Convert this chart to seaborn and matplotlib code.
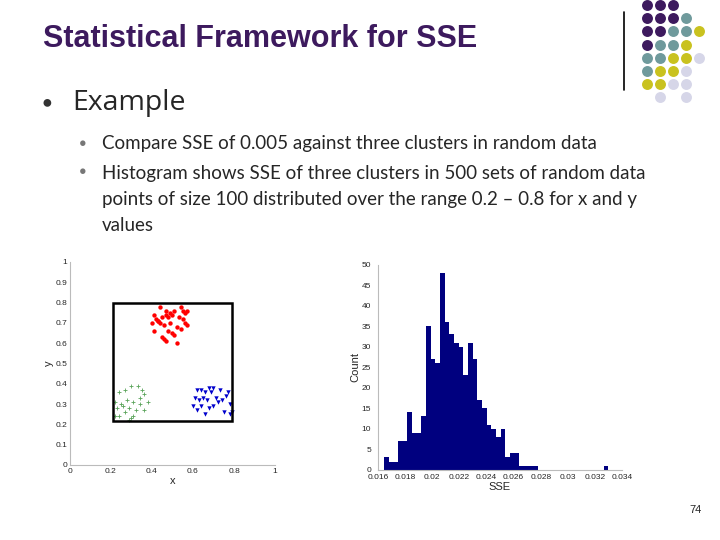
import numpy as np
import pandas as pd
import matplotlib
matplotlib.use("Agg")
import matplotlib.pyplot as plt
import seaborn as sns

# histogram of SSE (counts per bin)
sse_start = 0.01643
sse_width = 0.000345
sse_counts = [3, 2, 2, 7, 7, 14, 9, 9, 13, 35, 27, 26, 48, 36, 33, 31, 30, 23, 31, 27,
              17, 15, 11, 10, 8, 10, 3, 4, 4, 1, 1, 1, 1, 0, 0, 0, 0, 0, 0, 0,
              0, 0, 0, 0, 0, 0, 0, 1]

# random data with three clusters
red_x = [0.44, 0.47, 0.49, 0.51, 0.54, 0.55, 0.56, 0.57, 0.42, 0.43, 0.45, 0.47, 0.48, 0.50,
         0.53, 0.40, 0.41, 0.44, 0.46, 0.49, 0.52, 0.55, 0.57, 0.41, 0.48, 0.50, 0.54, 0.45,
         0.47, 0.51, 0.46, 0.52, 0.56, 0.43]
red_y = [0.78, 0.76, 0.75, 0.76, 0.78, 0.76, 0.75, 0.76, 0.72, 0.71, 0.73, 0.74, 0.73, 0.74,
         0.73, 0.70, 0.74, 0.70, 0.69, 0.70, 0.68, 0.72, 0.69, 0.66, 0.66, 0.65, 0.67, 0.63,
         0.61, 0.64, 0.62, 0.60, 0.70, 0.71]
green_x = [0.24, 0.27, 0.30, 0.33, 0.35, 0.36, 0.22, 0.25, 0.28, 0.31, 0.34, 0.38, 0.23, 0.26,
           0.29, 0.32, 0.36, 0.22, 0.24, 0.27, 0.30, 0.31, 0.29, 0.34]
green_y = [0.36, 0.37, 0.39, 0.39, 0.37, 0.35, 0.31, 0.30, 0.32, 0.31, 0.33, 0.31, 0.28, 0.29,
           0.28, 0.27, 0.27, 0.24, 0.24, 0.26, 0.23, 0.24, 0.22, 0.30]
blue_x = [0.62, 0.64, 0.66, 0.68, 0.70, 0.69, 0.73, 0.77, 0.61, 0.63, 0.65, 0.67, 0.71, 0.74,
          0.76, 0.78, 0.60, 0.64, 0.68, 0.70, 0.75, 0.79, 0.62, 0.66, 0.78, 0.72]
blue_y = [0.37, 0.37, 0.36, 0.38, 0.38, 0.36, 0.37, 0.36, 0.33, 0.32, 0.33, 0.32, 0.33, 0.32,
          0.34, 0.30, 0.29, 0.29, 0.28, 0.29, 0.26, 0.26, 0.27, 0.25, 0.25, 0.31]

# decorative dot grid, one string per row
dot_rows = ["PPP  ", "PPPT ", "PPTTY", "PTTY ", "TTYYL", "TYYL ", "YYLL ", " L L "]
dot_colors = {"P": "#3d1a5e", "T": "#6f9a9c", "Y": "#c9c21f", "L": "#d6d6e8"}

sns.set_style("white")
plt.rcParams["font.family"] = ["Liberation Sans", "DejaVu Sans"]

fig = plt.figure(figsize=(7.2, 5.4), dpi=100)

fig.text(0.06, 0.928, "Statistical Framework for SSE", fontsize=22, fontweight="bold",
         color="#3d1a5e", va="center")
fig.add_artist(plt.Line2D([0.867, 0.867], [0.833, 0.978], color="black", lw=1.2))

deco = fig.add_axes([0, 0, 1, 1], zorder=-1)
deco.set_xlim(0, 720)
deco.set_ylim(540, 0)
deco.axis("off")
for r, row in enumerate(dot_rows):
    for c, ch in enumerate(row):
        if ch != " ":
            deco.scatter(647 + c * 13, 5 + r * 13.2, s=62, color=dot_colors[ch], lw=0)

fig.text(0.058, 0.81, "\u25cf", fontsize=13, color="#333333", va="center")
fig.text(0.1, 0.81, "Example", fontsize=20.5, va="center", family=["Open Sans"])
sub = ["Compare SSE of 0.005 against three clusters in random data",
       "Histogram shows SSE of three clusters in 500 sets of random data\n"
       "points of size 100 distributed over the range 0.2 \u2013 0.8 for x and y\nvalues"]
fig.text(0.11, 0.734, "\u25cf", fontsize=9, color="#777777", va="center")
fig.text(0.11, 0.681, "\u25cf", fontsize=9, color="#777777", va="center")
fig.text(0.142, 0.734, sub[0], fontsize=13.5, va="center", family=["Lato"])
fig.text(0.142, 0.695, sub[1], fontsize=13.5, va="top", linespacing=1.66, family=["Lato"])

# scatter plot
ax1 = fig.add_axes([0.097, 0.139, 0.285, 0.376])
sns.scatterplot(x=red_x, y=red_y, ax=ax1, color="red", s=10, marker="o", lw=0)
sns.scatterplot(x=green_x, y=green_y, ax=ax1, color="#5aa35a", s=8, marker="+", lw=0.6)
sns.scatterplot(x=blue_x, y=blue_y, ax=ax1, color="#0000cc", s=10, marker="v", lw=0)
ax1.add_patch(plt.Rectangle((0.21, 0.215), 0.58, 0.585, fill=False, lw=1.8, color="black"))
ax1.set_xlim(0, 1)
ax1.set_ylim(0, 1)
ax1.set_xticks(np.arange(0, 1.01, 0.2))
ax1.set_xticklabels(["0", "0.2", "0.4", "0.6", "0.8", "1"])
ax1.set_yticks(np.arange(0, 1.01, 0.1))
ax1.set_yticklabels(["0"] + [f"{v:.1f}" for v in np.arange(0.1, 1.0, 0.1)] + ["1"])
ax1.set_xlabel("x", fontsize=8, labelpad=1)
ax1.set_ylabel("y", fontsize=8, labelpad=1)

# histogram
edges = list(sse_start + sse_width * np.arange(len(sse_counts) + 1))
hist_df = pd.DataFrame({"sse": edges[:-1], "count": sse_counts})
ax2 = fig.add_axes([0.525, 0.13, 0.339, 0.38])
sns.histplot(data=hist_df, x="sse", weights="count", bins=edges, ax=ax2, color="#00007f",
             alpha=1, edgecolor="none")
ax2.set_xlim(0.016, 0.034)
ax2.set_ylim(0, 50)
ax2.set_xticks(np.arange(0.016, 0.0341, 0.002))
ax2.set_xticklabels(["0.016", "0.018", "0.02", "0.022", "0.024", "0.026", "0.028",
                     "0.03", "0.032", "0.034"])
ax2.set_yticks(range(0, 51, 5))
ax2.set_xlabel("SSE", fontsize=8, labelpad=1)
ax2.set_ylabel("Count", fontsize=8, labelpad=1)

for ax in (ax1, ax2):
    ax.tick_params(labelsize=6, length=2, direction="in", pad=2)
    for side in ("top", "right"):
        ax.spines[side].set_visible(False)
    for side in ("left", "bottom"):
        ax.spines[side].set_color("#bbbbbb")
ax2.tick_params(axis="y", pad=5)
ax2.tick_params(axis="x", pad=3)

fig.text(0.975, 0.05, "74", fontsize=8, ha="right")

fig.savefig("out.png", dpi=100)
